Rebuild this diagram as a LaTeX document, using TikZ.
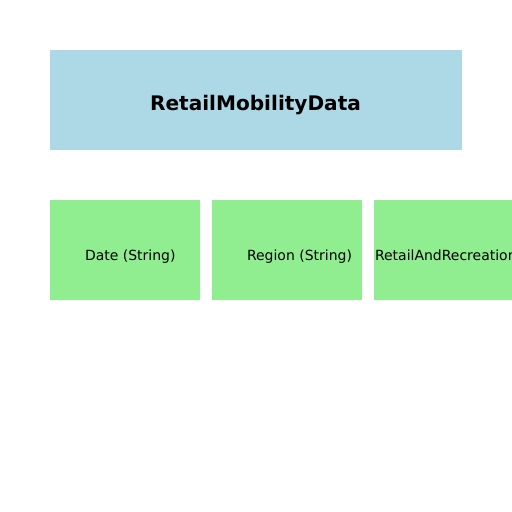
\documentclass[tikz,border=0pt]{standalone}
\usepackage{fontspec}
\setmainfont{DejaVu Sans}
\usetikzlibrary{positioning}
\definecolor{boxblue}{RGB}{173,216,230}
\definecolor{boxgreen}{RGB}{144,238,144}
\tikzset{basic/.style={inner sep=0pt,outer sep=0pt}}
\tikzset{record/.style={basic,fill=boxblue,minimum width=4.12in,minimum height=1in}}
\tikzset{field/.style={basic,fill=boxgreen,minimum width=1.5in,minimum height=1in}}
\tikzset{fieldtext/.style={basic,anchor=base west,font=\fontsize{10.1}{12}\selectfont}}
\begin{document}
\begin{tikzpicture}[x=0.01in,y=-0.01in]
    \useasboundingbox (0,0) rectangle (512,512);

    \node[record] (data) at (256,100) {};
    \node[basic,anchor=base,font=\fontsize{14.5}{17}\selectfont\bfseries] (datatext) at (255.5,110.5) {RetailMobilityData};

    \node[field] (date) at (125,250) {};
    \node[field, right=0.12in of date] (region) {};
    \node[field, right=0.12in of region] (retail) {};

    \node[fieldtext] (datelabel) at (85,260.5) {Date (String)};
    \node[fieldtext] (regionlabel) at (247,260.5) {Region (String)};
    \node[fieldtext] (retaillabel) at (375,260.5) {RetailAndRecreation};

\end{tikzpicture}
\end{document}
